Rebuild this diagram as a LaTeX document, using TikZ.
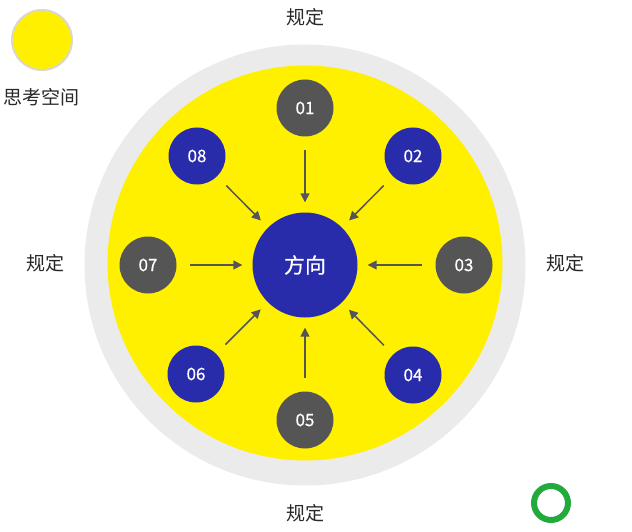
\documentclass[tikz,border=0pt]{standalone}
\usepackage{fontspec}
\setmainfont{Noto Sans CJK SC}
\newfontfamily\numfont[FakeBold=0.5]{Noto Sans CJK SC}
\usetikzlibrary{arrows.meta}
\definecolor{ylw}{RGB}{255,240,0}
\definecolor{ringgray}{RGB}{235,235,235}
\definecolor{dgray}{RGB}{85,85,85}
\definecolor{dblue}{RGB}{40,44,170}
\definecolor{grn}{RGB}{34,170,60}
\definecolor{txt}{RGB}{40,40,40}
\definecolor{legborder}{RGB}{220,215,205}
\tikzset{
  sat/.style={circle, minimum size=57pt, inner sep=0pt, text=white, font=\numfont\fontsize{17}{17}\selectfont},
  satg/.style={sat, fill=dgray},
  satb/.style={sat, fill=dblue},
  lbl/.style={text=txt, font=\fontsize{19}{19}\selectfont},
  arr/.style={draw=dgray, line width=1.5pt, -{Triangle[length=9pt,width=9pt]}, shorten <=13pt, shorten >=10pt}
}
\begin{document}
\begin{tikzpicture}[x=1pt,y=-1pt]
\useasboundingbox (0,0) rectangle (632,532);
\node[circle, fill=ringgray, minimum size=441pt, inner sep=0pt] (outer) at (305,265) {};
\node[circle, fill=ylw, minimum size=395pt, inner sep=0pt] (inner) at (305,263) {};
\node[circle, fill=dblue, minimum size=105pt, inner sep=0pt, text=white, font=\numfont\fontsize{21}{21}\selectfont] (c) at (305,265) {方向};
\node[satg] (n1) at (305,108) {01};
\node[satb] (n2) at (413,156) {02};
\node[satg] (n3) at (464,265) {03};
\node[satb] (n4) at (413,375) {04};
\node[satg] (n5) at (305,420) {05};
\node[satb] (n6) at (196,374) {06};
\node[satg] (n7) at (148,265) {07};
\node[satb] (n8) at (197,156) {08};
\foreach \n in {n1,n2,n3,n4,n5,n6,n7,n8} \draw[arr] (\n) -- (c);
\node[lbl] (t) at (305,17) {规定};
\node[lbl] (b) at (305,513) {规定};
\node[lbl] (l) at (46,263) {规定};
\node[lbl] (r) at (565,263) {规定};
\node[circle, fill=ylw, draw=legborder, line width=2pt, minimum size=60pt, inner sep=0pt] (leg) at (42,40) {};
\node[lbl] (legt) at (42,97) {思考空间};
\node[circle, draw=grn, line width=6pt, minimum size=34pt, inner sep=0pt] (g) at (551,503) {};
\end{tikzpicture}
\end{document}
